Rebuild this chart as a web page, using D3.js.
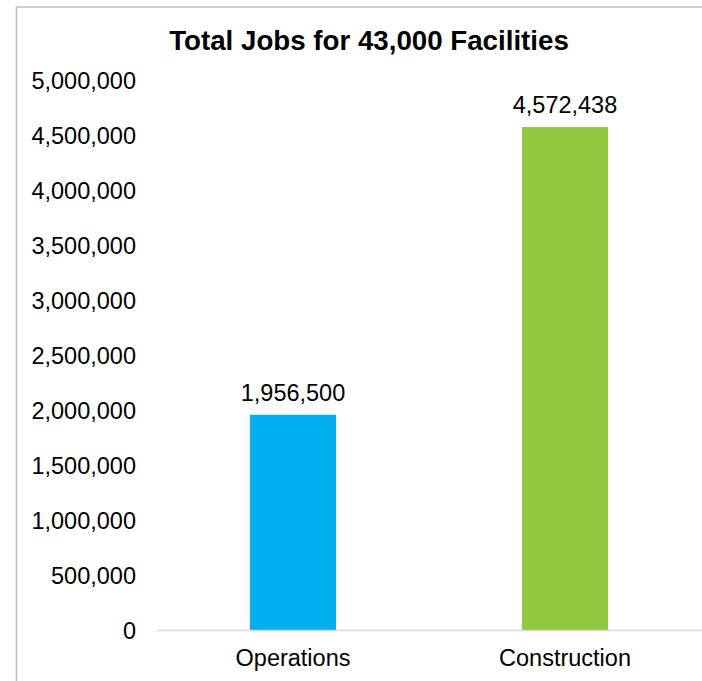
<!DOCTYPE html>
<html><head><meta charset="utf-8">
<script src="https://cdn.jsdelivr.net/npm/d3@7"></script>
<style>body{margin:0;background:#fff;} svg{display:block;} text{font-family:"Liberation Sans",Arial,sans-serif;fill:#000;}</style>
</head><body>
<script>
const categories = ["Operations", "Construction"];
const values = [1956500, 4572438];
const colors = ["#00B0F0", "#92C83E"];
const yTicks = [0, 500000, 1000000, 1500000, 2000000, 2500000, 3000000, 3500000, 4000000, 4500000, 5000000];
const title = "Total Jobs for 43,000 Facilities";

const W = 702, H = 681;
const svg = d3.select("body").append("svg").attr("width", W).attr("height", H);

// chart border
svg.append("rect").attr("x", 16.5).attr("y", 7).attr("width", 720).attr("height", 720)
  .attr("fill", "none").attr("stroke", "#c0c0c0").attr("stroke-width", 1.5);

const x = d3.scaleBand().domain(categories).range([157, 701]).paddingInner(0.684).paddingOuter(0.342);
const y = d3.scaleLinear().domain([0, 5000000]).range([630, 80]);
const fmt = d3.format(",");

svg.append("text").attr("x", 369).attr("y", 50).attr("text-anchor", "middle")
  .style("font-size", "27.7px").style("font-weight", "bold").text(title);

// y axis labels
const yAxis = d3.axisLeft(y).tickValues(yTicks).tickFormat(fmt).tickSize(0).tickPadding(0);
const gy = svg.append("g").attr("transform", "translate(136,0)").call(yAxis);
gy.select(".domain").remove();
gy.selectAll("text").style("font-size", "23.5px").attr("font-family", null).attr("fill", "#000").attr("dy", "0.35em");

// bars
svg.selectAll("rect.bar").data(values).enter().append("rect").attr("class", "bar")
  .attr("x", (d, i) => x(categories[i])).attr("width", x.bandwidth())
  .attr("y", d => y(d)).attr("height", d => y(0) - y(d))
  .attr("fill", (d, i) => colors[i]);

// x axis
const xAxis = d3.axisBottom(x).tickSize(0).tickPadding(0);
const gx = svg.append("g").attr("transform", `translate(0,${y(0)})`).call(xAxis);
gx.select(".domain").attr("d", `M157,0.5H702`).attr("stroke", "#d9d9d9").attr("stroke-width", 1.5);
gx.selectAll("text").style("font-size", "23.5px").attr("font-family", null).attr("fill", "#000").attr("y", 36).attr("dy", null);

// value labels
svg.selectAll("text.val").data(values).enter().append("text").attr("class", "val")
  .attr("x", (d, i) => x(categories[i]) + x.bandwidth() / 2)
  .attr("y", d => y(d) - 14).attr("text-anchor", "middle")
  .style("font-size", "23.5px").text(d => fmt(d));
</script>
</body></html>
